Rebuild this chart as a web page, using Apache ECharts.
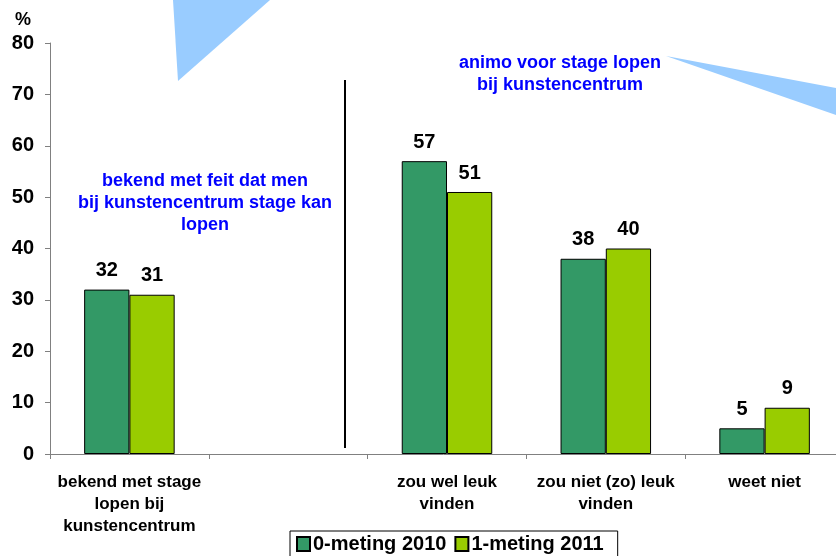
<!DOCTYPE html>
<html>
<head>
<meta charset="utf-8">
<script src="https://cdn.jsdelivr.net/npm/echarts@6/dist/echarts.min.js"></script>
<style>
  html, body { margin: 0; padding: 0; background: #fff; }
  #chart { width: 836px; height: 556px; }
</style>
</head>
<body>
<div id="chart"></div>
<script>
// categorieen en waarden
var categories = [
  'bekend met stage\nlopen bij\nkunstencentrum',
  '',
  'zou wel leuk\nvinden',
  'zou niet (zo) leuk\nvinden',
  'weet niet'
];
var meting2010 = [32, null, 57, 38, 5];
var meting2011 = [31, null, 51, 40, 9];
var seriesNames = ['0-meting 2010', '1-meting 2011'];
var yTicks = [0, 10, 20, 30, 40, 50, 60, 70, 80];

var font = 'Liberation Sans, Arial, sans-serif';

var chart = echarts.init(document.getElementById('chart'));

var valueLabel = {
  show: true,
  position: 'top',
  distance: 9,
  fontFamily: font,
  fontSize: 20,
  fontWeight: 'bold',
  color: '#000'
};

var option = {
  animation: false,
  textStyle: { fontFamily: font },
  grid: {
    left: 50,
    width: 794,
    top: 43,
    bottom: 102,
    containLabel: false,
    outerBoundsMode: 'none'
  },
  legend: {
    data: seriesNames,
    bottom: -1,
    left: 290,
    itemWidth: 13,
    itemHeight: 14,
    itemGap: 8,
    padding: [3, 14, 3, 6],
    borderColor: '#000',
    borderWidth: 1,
    icon: 'rect',
    textStyle: { fontFamily: font, fontSize: 20, fontWeight: 'bold', color: '#000', padding: [0, 0, 0, -2] }
  },
  xAxis: {
    type: 'category',
    data: categories,
    axisLine: { lineStyle: { color: '#808080', width: 1 } },
    axisTick: { show: true, length: 5, lineStyle: { color: '#808080' } },
    axisLabel: {
      interval: 0,
      margin: 17,
      fontFamily: font,
      fontSize: 17,
      fontWeight: 'bold',
      color: '#000',
      lineHeight: 22
    }
  },
  yAxis: {
    type: 'value',
    min: yTicks[0],
    max: yTicks[yTicks.length - 1],
    interval: 10,
    name: '%',
    nameLocation: 'end',
    nameGap: 14,
    nameTextStyle: { fontFamily: font, fontSize: 18, fontWeight: 'bold', color: '#000', align: 'right', padding: [0, 19, 0, 0] },
    splitLine: { show: false },
    axisLine: { show: true, lineStyle: { color: '#808080', width: 1 } },
    axisTick: { show: true, length: 5, lineStyle: { color: '#808080' } },
    axisLabel: {
      margin: 16,
      fontFamily: font,
      fontSize: 20,
      fontWeight: 'bold',
      color: '#000'
    }
  },
  series: [
    {
      name: seriesNames[0],
      type: 'bar',
      data: meting2010,
      barGap: '0%',
      barCategoryGap: '43%',
      itemStyle: { color: '#339966', borderColor: '#000', borderWidth: 1 },
      label: valueLabel
    },
    {
      name: seriesNames[1],
      type: 'bar',
      data: meting2011,
      itemStyle: { color: '#99CC00', borderColor: '#000', borderWidth: 1 },
      label: valueLabel
    }
  ],
  graphic: [
    // blauwe driehoeken (decoratie)
    {
      type: 'polygon',
      shape: { points: [[173, 0], [270, 0], [178, 81]] },
      style: { fill: '#99CCFF' },
      z: 0
    },
    {
      type: 'polygon',
      shape: { points: [[666, 56], [836, 88], [836, 115]] },
      style: { fill: '#99CCFF' },
      z: 0
    },
    // scheidingslijn
    {
      type: 'line',
      shape: { x1: 345, y1: 80, x2: 345, y2: 448 },
      style: { stroke: '#000', lineWidth: 2 }
    },
    {
      type: 'text',
      style: {
        text: 'bekend met feit dat men\nbij kunstencentrum stage kan\nlopen',
        x: 205,
        y: 170,
        align: 'center',
        lineHeight: 22,
        font: 'bold 18px ' + font,
        fill: '#0000FF'
      }
    },
    {
      type: 'text',
      style: {
        text: 'animo voor stage lopen\nbij kunstencentrum',
        x: 560,
        y: 52,
        align: 'center',
        lineHeight: 22,
        font: 'bold 18px ' + font,
        fill: '#0000FF'
      }
    }
  ]
};

chart.setOption(option);
</script>
</body>
</html>
